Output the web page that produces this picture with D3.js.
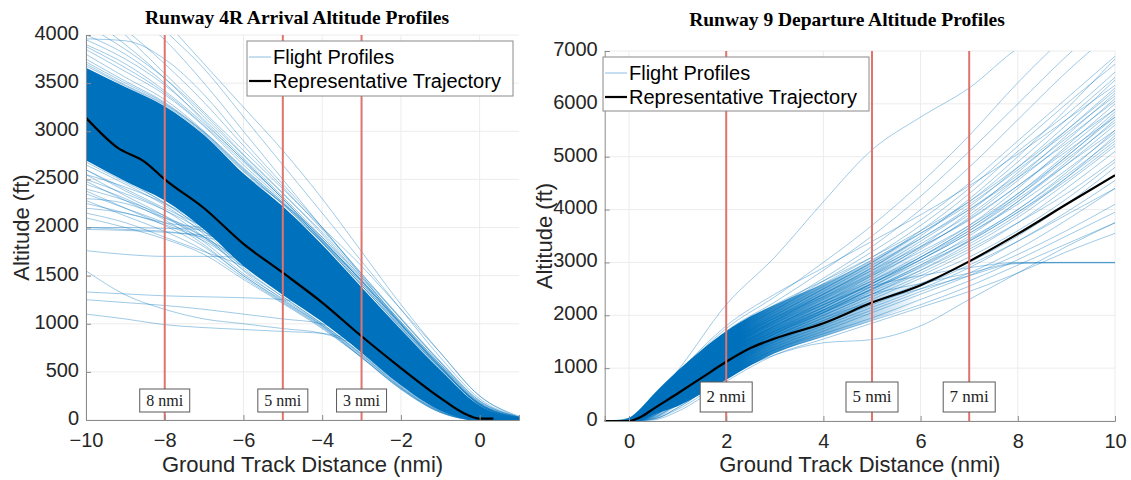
<!DOCTYPE html>
<html><head><meta charset="utf-8">
<script src="https://cdn.jsdelivr.net/npm/d3@7"></script>
<style>
html,body{margin:0;padding:0;background:#fff;}
svg text{font-family:"Liberation Sans",Arial,Helvetica,sans-serif;}
</style>
</head><body>
<svg id="chart" width="1131" height="480"></svg>
<script>
// ---------------- DATA ----------------
// Arrival (Runway 4R)
const arrivalTitle = "Runway 4R Arrival Altitude Profiles";
const arrivalXTicks = [-10, -8, -6, -4, -2, 0];
const arrivalYTicks = [0, 500, 1000, 1500, 2000, 2500, 3000, 3500, 4000];
const arrivalMarkers = [-8, -5, -3];
const arrivalMarkerLabels = ["8 nmi", "5 nmi", "3 nmi"];
const arrivalX = [-10, -9, -8, -7, -6, -5, -4, -3, -2, -1, 0, 1];
const arrivalBandUpper = [3660, 3460, 3260, 2960, 2560, 2220, 1820, 1380, 940, 520, 150, 20];
const arrivalBandLower = [2700, 2480, 2280, 1980, 1600, 1300, 1020, 700, 360, 100, 0, 0];
const arrivalProfiles = [
  [4400, 4000, 3600, 3200, 2800, 2400, 2000, 1600, 1150, 700, 250, 30],
  [4200, 3900, 3550, 3150, 2750, 2350, 1950, 1500, 1050, 600, 180, 20],
  [4000, 3800, 3500, 3100, 2700, 2300, 1850, 1400, 950, 520, 140, 10],
  [3960, 3940, 3750, 3380, 2900, 2450, 2000, 1500, 1000, 550, 150, 20],
  [4600, 4300, 3950, 3500, 3000, 2500, 2000, 1520, 1050, 600, 200, 30],
  [5000, 4600, 4150, 3700, 3250, 2800, 2300, 1750, 1200, 700, 250, 40],
  [4800, 4450, 4050, 3650, 3150, 2650, 2150, 1650, 1150, 650, 220, 30],
  [4300, 4050, 3700, 3300, 2850, 2420, 1980, 1520, 1060, 610, 200, 25],
  [4100, 3850, 3550, 3180, 2760, 2360, 1930, 1480, 1020, 580, 170, 20],
  [3950, 3750, 3480, 3120, 2720, 2320, 1900, 1460, 1000, 560, 160, 20],
  [3880, 3660, 3400, 3060, 2680, 2300, 1880, 1440, 990, 550, 160, 20],
  [3900, 3700, 3420, 3080, 2700, 2300, 1880, 1440, 990, 540, 160, 20],
  [3850, 3620, 3380, 3050, 2650, 2280, 1860, 1420, 970, 530, 160, 20],
  [3800, 3560, 3330, 3000, 2620, 2260, 1840, 1400, 960, 540, 170, 25],
  [3750, 3520, 3300, 2990, 2600, 2240, 1850, 1420, 980, 550, 170, 25],
  [3720, 3500, 3290, 2980, 2590, 2250, 1870, 1450, 1000, 570, 180, 30],
  [3700, 3480, 3280, 2990, 2610, 2260, 1870, 1440, 990, 560, 170, 25],
  [3680, 3470, 3270, 2970, 2580, 2240, 1840, 1400, 960, 540, 160, 20],
  [2720, 2500, 2300, 2000, 1620, 1320, 1040, 720, 380, 110, 0, 0],
  [2680, 2470, 2260, 1960, 1580, 1280, 1000, 680, 340, 90, 0, 0],
  [2650, 2450, 2230, 1930, 1550, 1250, 980, 650, 320, 80, 0, 0],
  [2600, 2380, 2180, 1900, 1560, 1280, 1000, 690, 360, 100, 0, 0],
  [2550, 2330, 2120, 1850, 1520, 1260, 990, 680, 350, 100, 0, 0],
  [2480, 2280, 2080, 1820, 1500, 1240, 980, 670, 340, 90, 0, 0],
  [2380, 2200, 2020, 1800, 1500, 1230, 970, 660, 330, 80, 0, 0],
  [2280, 2120, 1960, 1760, 1480, 1220, 960, 650, 320, 80, 0, 0],
  [2100, 2000, 1880, 1720, 1460, 1210, 950, 650, 330, 90, 0, 0],
  [2600, 2400, 2200, 2000, 1750, 1500, 1200, 900, 550, 230, 30, 0],
  [2450, 2300, 2100, 1900, 1650, 1400, 1100, 800, 500, 200, 20, 0],
  [2700, 2500, 2250, 2000, 1800, 1550, 1250, 900, 520, 210, 20, 0],
  [2300, 2250, 2100, 1950, 1750, 1450, 1150, 820, 480, 190, 20, 0],
  [2150, 2050, 1900, 1750, 1600, 1400, 1100, 750, 430, 160, 10, 0],
  [2000, 2000, 1990, 1980, 1950, 1750, 1300, 850, 500, 220, 30, 0],
  [2200, 2150, 2050, 2000, 1980, 1700, 1250, 850, 500, 200, 20, 0],
  [1760, 1720, 1700, 1700, 1690, 1600, 1250, 850, 480, 200, 20, 0],
  [1550, 1300, 1150, 1050, 1000, 950, 900, 750, 450, 180, 20, 0],
  [1330, 1310, 1290, 1280, 1270, 1250, 1150, 850, 500, 200, 20, 0],
  [1250, 1220, 1190, 1150, 1100, 1050, 1000, 800, 480, 190, 20, 0],
  [1100, 1050, 990, 960, 940, 920, 900, 780, 470, 190, 20, 0],
  [2550, 2420, 2250, 2020, 1700, 1420, 1120, 780, 420, 130, 0, 0],
  [2500, 2350, 2180, 1960, 1680, 1380, 1080, 740, 400, 120, 0, 0],
  [2400, 2280, 2120, 1900, 1640, 1350, 1050, 720, 380, 110, 0, 0],
  [2350, 2200, 2050, 1880, 1620, 1340, 1060, 730, 400, 130, 10, 0],
  [2250, 2150, 2030, 1860, 1600, 1330, 1040, 720, 390, 120, 0, 0],
  [3100, 2700, 2400, 2100, 1800, 1500, 1200, 850, 500, 200, 20, 0],
  [2900, 2600, 2350, 2050, 1750, 1450, 1150, 800, 470, 180, 10, 0],
  [3300, 3100, 2900, 2650, 2400, 2100, 1750, 1350, 900, 480, 130, 10],
  [3500, 3300, 3100, 2850, 2550, 2250, 1900, 1480, 1020, 580, 190, 30],
  [3400, 3200, 3000, 2750, 2480, 2200, 1850, 1450, 1010, 560, 160, 20],
  [2000, 1980, 1960, 1900, 1800, 1650, 1400, 1000, 600, 260, 40, 0],
  [1980, 1970, 1950, 1920, 1850, 1750, 1500, 1100, 650, 280, 60, 0],
  [2800, 2600, 2400, 2150, 1900, 1650, 1350, 1000, 620, 280, 60, 10],
  [3000, 2800, 2600, 2350, 2100, 1850, 1500, 1120, 720, 350, 80, 10]
];
const arrivalRepX = [-10, -9.2, -8.5, -8, -7, -6, -5, -4, -3, -2, -1, -0.4, 0, 0.35];
const arrivalRepAlt = [3140, 2830, 2680, 2500, 2200, 1830, 1530, 1220, 870, 540, 230, 70, 15, 15];

// Departure (Runway 9)
const departureTitle = "Runway 9 Departure Altitude Profiles";
const departureXTicks = [0, 2, 4, 6, 8, 10];
const departureYTicks = [0, 1000, 2000, 3000, 4000, 5000, 6000, 7000];
const departureMarkers = [2, 5, 7];
const departureMarkerLabels = ["2 nmi", "5 nmi", "7 nmi"];
const departureX = [-0.5, 0, 0.5, 1, 2, 3, 4, 5, 6, 7, 8, 9, 10];
const departureBandX = [-0.3, 0, 0.25, 0.5, 1, 1.5, 2, 2.5, 3, 4, 5, 6];
const departureBandUpper = [0, 60, 250, 500, 950, 1350, 1700, 1980, 2200, 2600, 3050, 3600];
const departureBandLower = [0, 0, 20, 120, 280, 520, 780, 1050, 1280, 1600, 1900, 2250];
const departureProfiles = [
  [0, 0, 200, 600, 1400, 1900, 2400, 2900, 3500, 4200, 5000, 5900, 6850],
  [0, 0, 250, 700, 1500, 2000, 2500, 3000, 3600, 4300, 5100, 5800, 6600],
  [0, 0, 180, 550, 1300, 1800, 2250, 2750, 3300, 3950, 4700, 5500, 6300],
  [0, 0, 220, 650, 1450, 1950, 2350, 2800, 3350, 3900, 4600, 5400, 6200],
  [0, 0, 150, 500, 1250, 1750, 2200, 2650, 3150, 3700, 4400, 5200, 6000],
  [0, 0, 200, 600, 1350, 1850, 2300, 2750, 3200, 3700, 4300, 5000, 5800],
  [0, 0, 120, 450, 1150, 1650, 2050, 2500, 2950, 3500, 4150, 4900, 5700],
  [0, 0, 170, 520, 1250, 1700, 2100, 2550, 3000, 3450, 4000, 4700, 5500],
  [0, 0, 100, 400, 1100, 1600, 2000, 2400, 2850, 3350, 3900, 4600, 5400],
  [0, 0, 140, 480, 1200, 1650, 2050, 2450, 2850, 3300, 3850, 4500, 5200],
  [0, 0, 90, 380, 1050, 1550, 1950, 2350, 2750, 3200, 3750, 4400, 5100],
  [0, 0, 60, 330, 1000, 1500, 1900, 2300, 2700, 3100, 3600, 4200, 4900],
  [0, 0, 110, 420, 1100, 1550, 1900, 2250, 2600, 3000, 3500, 4100, 4800],
  [0, 0, 80, 350, 1000, 1450, 1800, 2150, 2500, 2900, 3400, 3950, 4550],
  [0, 0, 50, 300, 950, 1400, 1750, 2100, 2450, 2800, 3250, 3800, 4400],
  [0, 0, 30, 250, 850, 1350, 1700, 2050, 2400, 2750, 3150, 3600, 4100],
  [0, 0, 70, 320, 900, 1350, 1650, 1950, 2300, 2650, 3050, 3500, 3950],
  [0, 0, 40, 220, 800, 1300, 1600, 1900, 2200, 2550, 2950, 3350, 3750],
  [0, 0, 20, 180, 750, 1250, 1550, 1850, 2150, 2450, 2800, 3200, 3550],
  [0, 0, 150, 500, 1200, 1700, 2150, 2600, 3100, 3650, 4250, 4950, 5650],
  [0, 0, 230, 680, 1500, 2050, 2550, 3050, 3550, 4100, 4750, 5450, 6150],
  [0, 0, 260, 750, 1600, 2100, 2600, 3100, 3700, 4400, 5200, 6000, 6750],
  [0, 0, 190, 580, 1350, 1900, 2400, 2900, 3450, 4050, 4800, 5600, 6450],
  [0, 0, 300, 800, 1650, 2150, 2700, 3300, 4000, 4800, 5700, 6600, 7400],
  [0, 0, 320, 850, 1700, 2250, 2850, 3500, 4250, 5100, 6000, 6900, 7700],
  [0, 0, 350, 880, 1750, 2350, 3000, 3700, 4500, 5400, 6400, 7300, 8100],
  [0, 50, 400, 950, 2200, 3100, 4150, 5130, 5750, 6300, 7050, 7500, 8000],
  [0, 0, 100, 420, 1100, 1650, 2050, 2400, 2600, 2800, 2990, 3000, 3000],
  [0, 0, 60, 350, 1000, 1550, 1950, 2250, 2500, 2750, 2980, 2990, 2990],
  [0, 0, 150, 500, 1250, 1800, 2200, 2550, 2750, 2900, 3000, 3000, 3000],
  [0, 0, 40, 250, 850, 1250, 1480, 1540, 1800, 2300, 2800, 3300, 3750],
  [0, 0, 100, 400, 1050, 1500, 1850, 2200, 2550, 2950, 3400, 3900, 4400],
  [0, 0, 130, 460, 1150, 1600, 2000, 2400, 2800, 3250, 3750, 4300, 4950],
  [0, 0, 210, 620, 1400, 1900, 2350, 2850, 3400, 4000, 4650, 5350, 6050],
  [0, 0, 240, 700, 1450, 1950, 2450, 2950, 3450, 4000, 4600, 5250, 5900],
  [0, 0, 160, 540, 1300, 1800, 2250, 2700, 3250, 3850, 4550, 5300, 6100],
  [0, 0, 200, 560, 1300, 1750, 2150, 2600, 3050, 3550, 4150, 4850, 5600],
  [0, 0, 180, 520, 1250, 1700, 2100, 2500, 2900, 3400, 3950, 4600, 5300],
  [0, 0, 120, 440, 1150, 1650, 2100, 2550, 3050, 3600, 4250, 5000, 5750],
  [0, 0, 90, 400, 1100, 1600, 2050, 2500, 2950, 3400, 3950, 4550, 5250],
  [0, 0, 270, 760, 1550, 2100, 2650, 3200, 3800, 4500, 5300, 6100, 6900],
  [0, 0, 210, 640, 1450, 2000, 2500, 3000, 3550, 4150, 4900, 5700, 6500],
  [0, 30, 380, 900, 1800, 2400, 2900, 3400, 3900, 4450, 5050, 5700, 6350],
  [0, 20, 330, 820, 1650, 2200, 2650, 3100, 3600, 4150, 4800, 5500, 6250],
  [0, 0, 220, 620, 1350, 1850, 2250, 2650, 3100, 3600, 4200, 4850, 5500],
  [0, 0, 180, 560, 1280, 1780, 2200, 2600, 3050, 3550, 4100, 4750, 5450],
  [0, 0, 240, 660, 1420, 1950, 2400, 2850, 3300, 3800, 4450, 5150, 5900],
  [0, 0, 160, 500, 1220, 1720, 2150, 2600, 3100, 3650, 4300, 5050, 5850],
  [0, 0, 200, 600, 1380, 1880, 2320, 2780, 3280, 3820, 4450, 5100, 5750],
  [0, 0, 140, 470, 1180, 1680, 2080, 2480, 2920, 3420, 4000, 4650, 5350]
];
const departureRepX = [-0.5, 0, 0.25, 0.5, 1, 1.5, 2, 2.5, 3, 4, 5, 6, 7, 8, 9, 10];
const departureRepAlt = [0, 0, 80, 230, 520, 820, 1120, 1380, 1560, 1850, 2240, 2570, 3020, 3540, 4100, 4650];

const xAxisLabel = "Ground Track Distance (nmi)";
const yAxisLabel = "Altitude (ft)";
const legendLabels = ["Flight Profiles", "Representative Trajectory"];

// ---------------- DRAW ----------------
const svg = d3.select("#chart");
const BLUE = "#0072BD";
const RED = "#df746d";
const defs = svg.append("defs");

function panel(cfg) {
  const g = svg.append("g");
  const x = d3.scaleLinear().domain(cfg.xDomain).range(cfg.xRange);
  const y = d3.scaleLinear().domain(cfg.yDomain).range(cfg.yRange);
  const clipId = "clip" + cfg.id;
  defs.append("clipPath").attr("id", clipId)
    .append("rect").attr("x", cfg.xRange[0]).attr("y", cfg.yRange[1])
    .attr("width", cfg.xRange[1] - cfg.xRange[0]).attr("height", cfg.yRange[0] - cfg.yRange[1]);

  // grid
  const grid = g.append("g");
  grid.selectAll(".gx").data(cfg.xTicks).join("line")
    .attr("x1", d => x(d)).attr("x2", d => x(d))
    .attr("y1", cfg.yRange[0]).attr("y2", cfg.yRange[1])
    .attr("stroke", "#ececec").attr("stroke-width", 1);
  grid.selectAll(".gy").data(cfg.yTicks).join("line")
    .attr("x1", cfg.xRange[0]).attr("x2", cfg.xRange[1])
    .attr("y1", d => y(d)).attr("y2", d => y(d))
    .attr("stroke", "#ececec").attr("stroke-width", 1);

  const plot = g.append("g").attr("clip-path", `url(#${clipId})`);
  // dense band
  let fill = BLUE;
  if (cfg.fade) {
    const gid = "fade" + cfg.id;
    const lg = defs.append("linearGradient").attr("id", gid).attr("gradientUnits", "userSpaceOnUse")
      .attr("x1", x(cfg.fade[0])).attr("x2", x(cfg.fade[1])).attr("y1", 0).attr("y2", 0);
    lg.append("stop").attr("offset", 0).attr("stop-color", BLUE).attr("stop-opacity", 1);
    lg.append("stop").attr("offset", 1).attr("stop-color", BLUE).attr("stop-opacity", 0);
    fill = `url(#${gid})`;
  }
  const area = d3.area().x(d => x(d[0])).y0(d => y(d[2])).y1(d => y(d[1])).curve(d3.curveMonotoneX);
  plot.append("path").datum(cfg.bandX.map((v, i) => [v, cfg.bandUpper[i], cfg.bandLower[i]]))
    .attr("d", area).attr("fill", fill).attr("stroke", "none");
  // profiles
  const line = d3.line().x(d => x(d[0])).y(d => y(d[1])).curve(d3.curveMonotoneX);
  plot.selectAll(".prof").data(cfg.profiles).join("path")
    .attr("d", p => line(p.map((v, i) => [cfg.profX[i], v])))
    .attr("fill", "none").attr("stroke", BLUE).attr("stroke-opacity", 0.42).attr("stroke-width", 0.9);
  // representative
  plot.append("path").datum(cfg.repX.map((v, i) => [v, cfg.repAlt[i]]))
    .attr("d", line).attr("fill", "none").attr("stroke", "#000").attr("stroke-width", 2.2);
  // markers
  plot.selectAll(".mk").data(cfg.markers).join("line")
    .attr("x1", d => x(d)).attr("x2", d => x(d))
    .attr("y1", cfg.yRange[1]).attr("y2", cfg.yRange[0])
    .attr("stroke", RED).attr("stroke-width", 2);

  // axes
  const ax = g.append("g").attr("transform", `translate(0,${cfg.yRange[0]})`)
    .call(d3.axisBottom(x).tickValues(cfg.xTicks).tickSize(-5).tickPadding(13).tickFormat(d3.format("d")));
  const ay = g.append("g").attr("transform", `translate(${cfg.xRange[0]},0)`)
    .call(d3.axisLeft(y).tickValues(cfg.yTicks).tickSize(-5).tickPadding(7).tickFormat(d3.format("d")));
  [ax, ay].forEach(a => {
    a.select(".domain").attr("stroke", "#8c8c8c");
    a.selectAll(".tick line").attr("stroke", "#8c8c8c");
    a.selectAll("text").attr("fill", "#262626").style("font-size", "20px")
      .style("font-family", "'Liberation Sans', Arial, sans-serif");
  });
  ax.selectAll("text").attr("dy", "0.71em");
  ay.selectAll("text").attr("dy", "0.22em");

  // marker labels
  cfg.markers.forEach((m, i) => {
    const bx = x(m) - cfg.boxW / 2;
    g.append("rect").attr("x", bx).attr("y", cfg.boxY).attr("width", cfg.boxW).attr("height", cfg.boxH)
      .attr("fill", "#fff").attr("stroke", "#5a5a5a").attr("stroke-width", 1);
    g.append("text").attr("x", x(m)).attr("y", cfg.boxY + cfg.boxH / 2 + 5)
      .attr("text-anchor", "middle").style("font-family", "'Liberation Serif', 'Times New Roman', serif")
      .style("font-size", cfg.boxFont + "px").attr("fill", "#222").text(cfg.markerLabels[i]);
  });

  // titles & labels
  g.append("text").attr("x", cfg.titleX).attr("y", cfg.titleY).attr("text-anchor", "middle")
    .style("font-family", "'Liberation Serif', 'Times New Roman', serif").style("font-weight", "bold")
    .style("font-size", "19.5px").attr("fill", "#000").text(cfg.title);
  g.append("text").attr("x", (cfg.xRange[0] + cfg.xRange[1]) / 2).attr("y", 472).attr("text-anchor", "middle")
    .style("font-size", "22px").attr("fill", "#262626").text(xAxisLabel);
  g.append("text").attr("transform", `translate(${cfg.yLabelX},${(cfg.yRange[0] + cfg.yRange[1]) / 2}) rotate(-90)`)
    .attr("text-anchor", "middle").style("font-size", "22px").attr("fill", "#262626").text(yAxisLabel);

  // legend
  const lg = g.append("g");
  lg.append("rect").attr("x", cfg.legX).attr("y", cfg.legY).attr("width", cfg.legW).attr("height", cfg.legH)
    .attr("fill", "#fff").attr("stroke", "#8a8a8a").attr("stroke-width", 1);
  const rows = [{c: BLUE, o: 0.45, w: 1}, {c: "#000", o: 1, w: 2.2}];
  rows.forEach((r, i) => {
    const yy = cfg.legY + 16 + i * 24;
    lg.append("line").attr("x1", cfg.legX + 2).attr("x2", cfg.legX + 24).attr("y1", yy).attr("y2", yy)
      .attr("stroke", r.c).attr("stroke-opacity", r.o).attr("stroke-width", r.w);
    lg.append("text").attr("x", cfg.legX + 26).attr("y", yy + 7).style("font-size", "20px")
      .attr("fill", "#000").text(legendLabels[i]);
  });
}

panel({
  id: "A", title: arrivalTitle, titleX: 297, titleY: 24,
  xDomain: [-10, 1], xRange: [86, 519], yDomain: [0, 4000], yRange: [420, 35],
  xTicks: arrivalXTicks, yTicks: arrivalYTicks,
  bandX: arrivalX, bandUpper: arrivalBandUpper, bandLower: arrivalBandLower,
  profX: arrivalX, profiles: arrivalProfiles, repX: arrivalRepX, repAlt: arrivalRepAlt,
  markers: arrivalMarkers, markerLabels: arrivalMarkerLabels,
  boxY: 389, boxH: 23, boxW: 50, boxFont: 16,
  yLabelX: 29, legX: 247, legY: 41, legW: 266, legH: 55
});
panel({
  id: "B", title: departureTitle, titleX: 847, titleY: 26, fade: [2.3, 6],
  xDomain: [-0.5, 10], xRange: [604.7, 1115], yDomain: [0, 7000], yRange: [421, 51],
  xTicks: departureXTicks, yTicks: departureYTicks,
  bandX: departureBandX, bandUpper: departureBandUpper, bandLower: departureBandLower,
  profX: departureX, profiles: departureProfiles, repX: departureRepX, repAlt: departureRepAlt,
  markers: departureMarkers, markerLabels: departureMarkerLabels,
  boxY: 382, boxH: 30, boxW: 52, boxFont: 17,
  yLabelX: 552, legX: 603, legY: 57, legW: 266, legH: 54
});
</script>
</body></html>
